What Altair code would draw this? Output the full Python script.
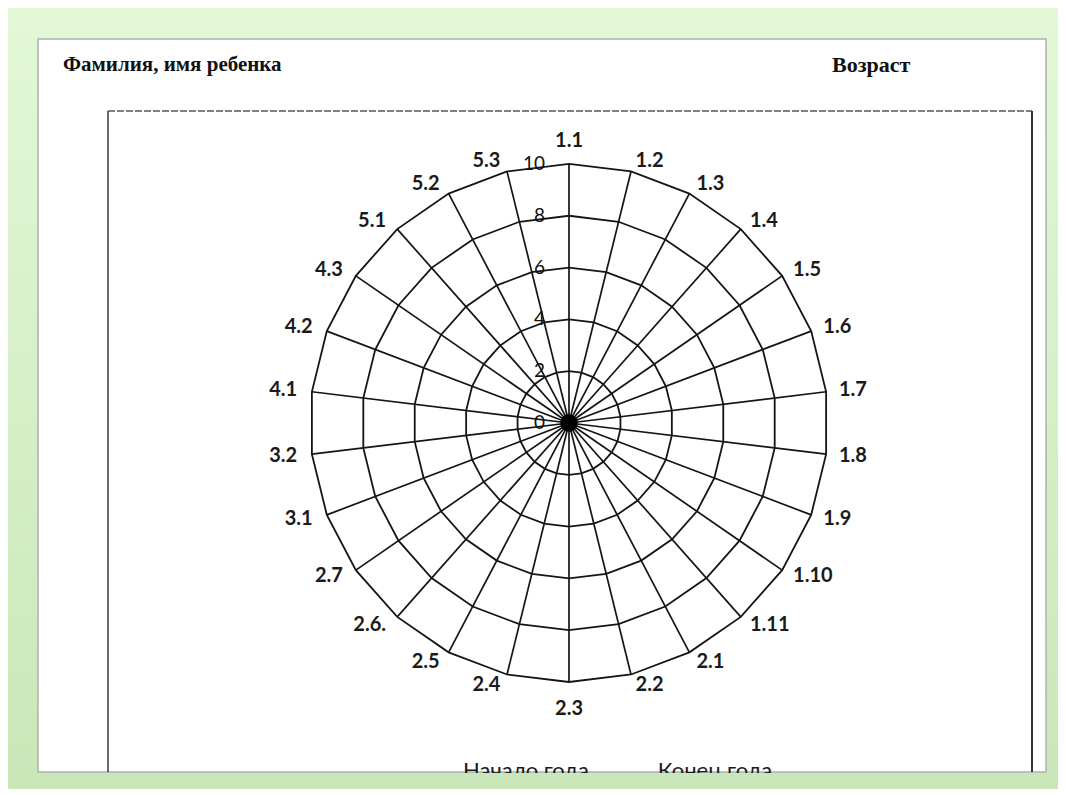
import numpy as np
import pandas as pd
import altair as alt

# ---- data ----
categories = ["1.1", "1.2", "1.3", "1.4", "1.5", "1.6", "1.7", "1.8", "1.9", "1.10", "1.11",
              "2.1", "2.2", "2.3", "2.4", "2.5", "2.6.", "2.7",
              "3.1", "3.2", "4.1", "4.2", "4.3", "5.1", "5.2", "5.3"]
ring_values = [2, 4, 6, 8, 10]
tick_values = [0, 2, 4, 6, 8, 10]
tick_labels = ["0", "2", "4", "6", "8", "10"]
max_value = 10
label_radius = 10.42
header_left = "Фамилия, имя ребенка"
header_right = "Возраст"
legend_labels = ["Начало года", "Конец года"]

n = len(categories)
angles = np.arange(n) * 2 * np.pi / n  # clockwise from top
sin_a, cos_a = np.sin(angles), np.cos(angles)

spokes = pd.DataFrame({
    "cat": categories, "x0": 0.0, "y0": 0.0,
    "x": max_value * sin_a, "y": max_value * cos_a,
})
side = np.where(sin_a > 0.05, "right", np.where(sin_a < -0.05, "left",
                np.where(cos_a > 0, "top", "bottom")))
labels = pd.DataFrame({
    "cat": categories, "side": side,
    "x": label_radius * sin_a, "y": label_radius * cos_a,
})
ring_rows = []
for r in ring_values:
    for i, a in enumerate(angles):
        ring_rows.append({"ring": r, "idx": i, "x": r * np.sin(a), "y": r * np.cos(a)})
rings = pd.DataFrame(ring_rows)
ticks = pd.DataFrame({"v": tick_values, "label": tick_labels, "x": 0.0})
center = pd.DataFrame({"x": [0.0], "y": [0.0]})

W, H = 1050, 781
xs = alt.Scale(domain=[-21.66, 18.88], nice=False, zero=False)
ys = alt.Scale(domain=[-14.13, 16.02], nice=False, zero=False)
X = lambda f: alt.X(f, type="quantitative", scale=xs, axis=None)
Y = lambda f: alt.Y(f, type="quantitative", scale=ys, axis=None)

one = pd.DataFrame({"a": [0]})
LINE = "#151515"
TXT = "#1a1a1a"

bg = alt.Chart(one).mark_rect(
    color=alt.LinearGradient(gradient="linear", x1=0, y1=0, x2=0, y2=1,
                             stops=[alt.GradientStop(color="#e2f8d6", offset=0),
                                    alt.GradientStop(color="#c9e7b9", offset=1)])
).encode(x=alt.value(0), x2=alt.value(W), y=alt.value(0), y2=alt.value(H))

page = alt.Chart(one).mark_rect(color="white", stroke="#b0b0b0", strokeWidth=1.5).encode(
    x=alt.value(30), x2=alt.value(1038), y=alt.value(31), y2=alt.value(764))

box_top = alt.Chart(one).mark_rule(color="#555555", strokeWidth=1.3, strokeDash=[7, 2]).encode(
    x=alt.value(100), x2=alt.value(1024), y=alt.value(103))
box_left = alt.Chart(one).mark_rule(color="#444444", strokeWidth=1.6).encode(
    x=alt.value(100), y=alt.value(103), y2=alt.value(764))
box_right = alt.Chart(one).mark_rule(color="#333333", strokeWidth=2).encode(
    x=alt.value(1024), y=alt.value(103), y2=alt.value(764))

hdr_l = alt.Chart(one).mark_text(text=header_left, font="Liberation Serif", fontWeight="bold",
                                 fontSize=21, align="left", baseline="middle", color="#111111").encode(
    x=alt.value(55), y=alt.value(57))
hdr_r = alt.Chart(one).mark_text(text=header_right, font="Liberation Serif", fontWeight="bold",
                                 fontSize=22, align="left", baseline="middle", color="#111111").encode(
    x=alt.value(824), y=alt.value(57))

ring_layer = alt.Chart(rings).mark_line(color=LINE, strokeWidth=1.8, interpolate="linear-closed").encode(
    x=X("x"), y=Y("y"), detail="ring:N", order="idx:Q")
spoke_layer = alt.Chart(spokes).mark_rule(color=LINE, strokeWidth=1.7).encode(
    x=X("x0"), y=Y("y0"), x2="x", y2="y")
center_layer = alt.Chart(center).mark_point(filled=True, color="black", size=300, opacity=1).encode(
    x=X("x"), y=Y("y"))

lab_base = alt.Chart(labels)
lab_style = dict(font="Lato", fontWeight="bold", fontSize=20, color=TXT)
lab_right = lab_base.transform_filter(alt.datum.side == "right").mark_text(
    align="left", baseline="middle", dx=2, **lab_style).encode(x=X("x"), y=Y("y"), text="cat:N")
lab_left = lab_base.transform_filter(alt.datum.side == "left").mark_text(
    align="right", baseline="middle", dx=-4, **lab_style).encode(x=X("x"), y=Y("y"), text="cat:N")
lab_top = lab_base.transform_filter(alt.datum.side == "top").mark_text(
    align="center", baseline="bottom", dy=-2, **lab_style).encode(x=X("x"), y=Y("y"), text="cat:N")
lab_bottom = lab_base.transform_filter(alt.datum.side == "bottom").mark_text(
    align="center", baseline="top", dy=6, **lab_style).encode(x=X("x"), y=Y("y"), text="cat:N")

tick_layer = alt.Chart(ticks).mark_text(font="Lato", fontSize=19, align="right", baseline="middle",
                                        dx=-24, color="#111111").encode(
    x=X("x"), y=Y("v"), text="label:N")

leg_df = pd.DataFrame({"label": legend_labels, "px": [518, 707]})
legend_layer = alt.Chart(leg_df).mark_text(font="Lato", fontSize=22, align="center",
                                           baseline="top", color=TXT).encode(
    x=alt.X("px:Q", scale=alt.Scale(domain=[0, W], nice=False, zero=False), axis=None),
    y=alt.value(753), text="label:N")

bottom_strip = alt.Chart(one).mark_rect(color="#c9e7b9").encode(
    x=alt.value(0), x2=alt.value(W), y=alt.value(765), y2=alt.value(H))

chart = alt.layer(
    bg, page, box_top, box_left, box_right, hdr_l, hdr_r,
    ring_layer, spoke_layer, center_layer,
    lab_right, lab_left, lab_top, lab_bottom, tick_layer,
    legend_layer, bottom_strip
).resolve_scale(x="independent").properties(
    width=W, height=H, autosize=alt.AutoSizeParams(type="none"), padding=0
).configure_view(stroke=None)

chart.save("out.html", embed_options={"renderer": "svg", "actions": False})
